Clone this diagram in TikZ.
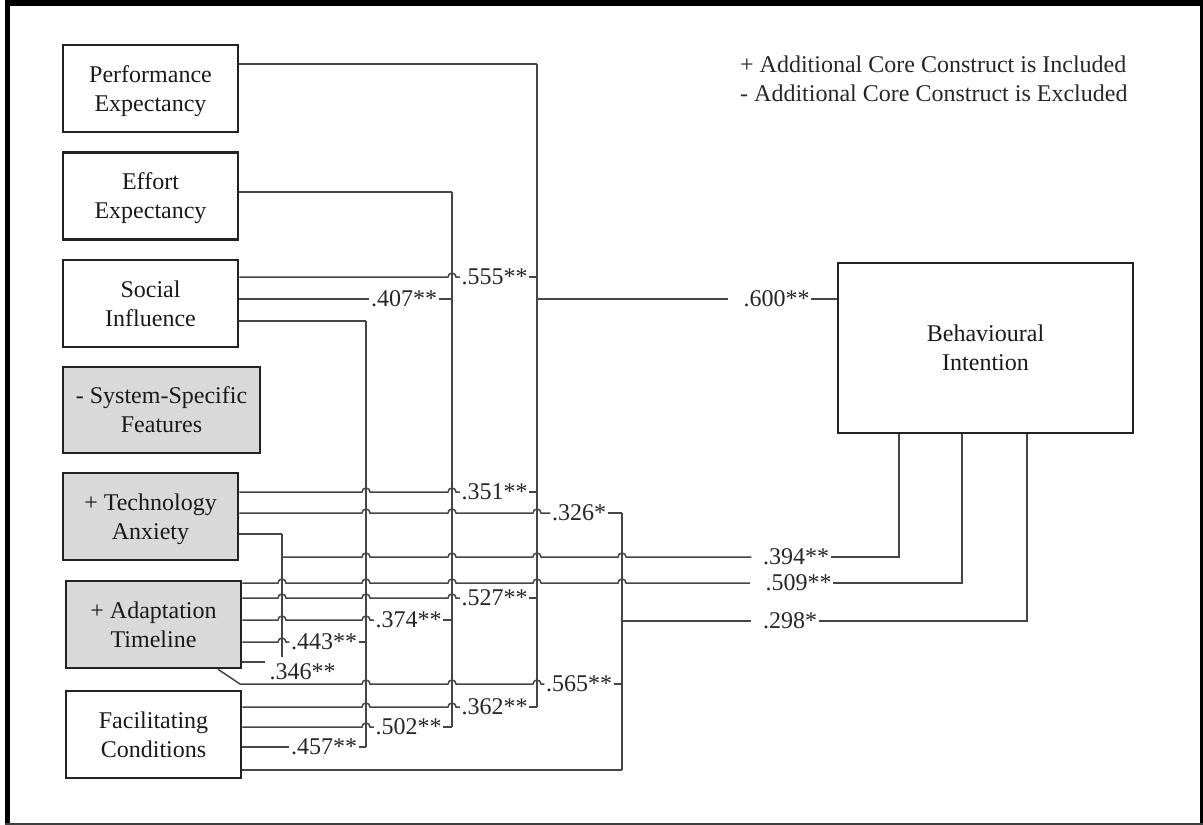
\documentclass[tikz,border=0pt]{standalone}
\usepackage{fontspec}
\setmainfont{Liberation Serif}
\usetikzlibrary{calc}
\definecolor{boxgray}{HTML}{D9D9D9}
\definecolor{connc}{HTML}{454545}
\definecolor{boxline}{HTML}{222222}
\newcommand\bxfont{\fontsize{24}{29}\selectfont}
\begin{document}
\begin{tikzpicture}[x=1pt,y=-1pt,
  box/.style={draw=boxline, line width=2.5pt, minimum width=175pt, minimum height=87pt, align=center, font=\bxfont, inner sep=2pt, text=black!90, text depth=0pt},
  graybox/.style={box, fill=boxgray},
  conn/.style={draw=connc, line width=1.5pt},
  lab/.style={inner sep=1.5pt, font=\bxfont, text=black!85},
]
\useasboundingbox (0,0) rectangle (1203,825);
% frame
\fill[black] (5,0) rectangle (10,825);
\fill[black] (5,0) rectangle (1203,6);
\fill[black] (1200,0) rectangle (1203,825);
\fill[black!75] (5,823) rectangle (1203,825);

% boxes
\node[box] (pe) at (150.5,88.5) {Performance\\Expectancy};
\node[box] (ee) at (150.5,196) {Effort\\Expectancy};
\node[box] (si) at (150.5,303.5) {Social\\Influence};
\node[graybox, minimum width=197pt, minimum height=86pt] (ssf) at (161.5,410) {- System-Specific\\Features};
\node[graybox] (ta) at (150.5,516.5) {+ Technology\\Anxiety};
\node[graybox] (at) at (153.5,624.5) {+ Adaptation\\Timeline};
\node[box] (fc) at (153.5,734.5) {Facilitating\\Conditions};
\node[box, minimum width=295pt, minimum height=170pt] (bi) at (985.5,348) {Behavioural\\Intention};

% legend
\node[anchor=west, font=\bxfont, inner sep=0pt, text=black!85] (leg1) at (740,64.5) {+ Additional Core Construct is Included};
\node[anchor=west, font=\bxfont, inner sep=0pt, text=black!85] (leg2) at (740,93) {- Additional Core Construct is Excluded};

% labels
\node[lab] (l555) at (494.5,277) {.555**};
\node[lab] (l407) at (404,299) {.407**};
\node[lab] (l351) at (494.5,492) {.351**};
\node[lab] (l326) at (579,513) {.326*};
\node[lab] (l394) at (796,557) {.394**};
\node[lab] (l509) at (798.5,583) {.509**};
\node[lab] (l527) at (494.5,598) {.527**};
\node[lab] (l374) at (408.5,620) {.374**};
\node[lab] (l443) at (324,642) {.443**};
\node[lab] (l346) at (302.5,671.5) {.346**};
\node[lab] (l565) at (579,684) {.565**};
\node[lab] (l362) at (494.5,707) {.362**};
\node[lab] (l502) at (408.5,727) {.502**};
\node[lab] (l457) at (324,747) {.457**};
\node[lab] (l298) at (790,621) {.298*};
\node[lab] (l600) at (776.5,299) {.600**};

% bus coordinates
\coordinate (v1t) at (537,64);  \coordinate (v1b) at (537,707);
\coordinate (v2t) at (452,192); \coordinate (v2b) at (452,727);
\coordinate (v3t) at (366,321); \coordinate (v3b) at (366,747);
\coordinate (v4t) at (282,534); \coordinate (v4b) at (282,657);
\coordinate (v5t) at (622,513); \coordinate (v5b) at (622,770);
\coordinate (bi1) at (bi.south -| 899,0);
\coordinate (bi2) at (bi.south -| 962,0);
\coordinate (bi3) at (bi.south -| 1027,0);
\coordinate (a346) at (265,662);

% buses
\draw[conn] (v1t) -- (v1b);
\draw[conn] (v2t) -- (v2b);
\draw[conn] (v3t) -- (v3b);
\draw[conn] (v4t) -- (v4b);
\draw[conn] (v5t) -- (v5b);

% Performance / Effort
\draw[conn] (pe.east |- v1t) -- (v1t);
\draw[conn] (ee.east |- v2t) -- (v2t);

% Social Influence
\draw[conn] (si.east |- l555) \foreach \h in {452}{-- (\h-4,277) arc[start angle=180,end angle=0,radius=4pt]} -- (l555.west);
\draw[conn] (l555.east) -- (l555 -| v1t);
\draw[conn] (si.east |- l407) -- (l407.west);
\draw[conn] (l407.east) -- (l407 -| v2t);
\draw[conn] (si.east |- v3t) -- (v3t);

% Technology Anxiety
\draw[conn] (ta.east |- l351) \foreach \h in {366,452}{-- (\h-4,492) arc[start angle=180,end angle=0,radius=4pt]} -- (l351.west);
\draw[conn] (l351.east) -- (l351 -| v1t);
\draw[conn] (ta.east |- l326) \foreach \h in {366,452,537}{-- (\h-4,513) arc[start angle=180,end angle=0,radius=4pt]} -- (l326.west);
\draw[conn] (l326.east) -- (v5t);
\draw[conn] (ta.east |- v4t) -- (v4t);
\draw[conn] (v4t |- l394) \foreach \h in {366,452,537,622}{-- (\h-4,557) arc[start angle=180,end angle=0,radius=4pt]} -- ([xshift=-10pt]l394.west);
\draw[conn] (l394.east) -- (l394 -| bi1) -- (bi1);

% Adaptation Timeline
\draw[conn] (at.east |- l509) \foreach \h in {282,366,452,537,622}{-- (\h-4,583) arc[start angle=180,end angle=0,radius=4pt]} -- ([xshift=-14pt]l509.west);
\draw[conn] (l509.east) -- (l509 -| bi2) -- (bi2);
\draw[conn] (at.east |- l527) \foreach \h in {282,366,452}{-- (\h-4,598) arc[start angle=180,end angle=0,radius=4pt]} -- (l527.west);
\draw[conn] (l527.east) -- (l527 -| v1t);
\draw[conn] (at.east |- l374) \foreach \h in {282,366}{-- (\h-4,620) arc[start angle=180,end angle=0,radius=4pt]} -- (l374.west);
\draw[conn] (l374.east) -- (l374 -| v2t);
\draw[conn] (at.east |- l443) \foreach \h in {282}{-- (\h-4,642) arc[start angle=180,end angle=0,radius=4pt]} -- (l443.west);
\draw[conn] (l443.east) -- (l443 -| v3t);
\draw[conn] (at.east |- a346) -- (a346);
\draw[conn] (at.south -| 218,0) -- (240,684) \foreach \h in {366,452,537}{-- (\h-4,684) arc[start angle=180,end angle=0,radius=4pt]} -- (l565.west);
\draw[conn] (l565.east) -- (l565 -| v5t);

% Facilitating Conditions
\draw[conn] (fc.east |- l362) \foreach \h in {366,452}{-- (\h-4,707) arc[start angle=180,end angle=0,radius=4pt]} -- (l362.west);
\draw[conn] (l362.east) -- (v1b);
\draw[conn] (fc.east |- l502) \foreach \h in {366}{-- (\h-4,727) arc[start angle=180,end angle=0,radius=4pt]} -- (l502.west);
\draw[conn] (l502.east) -- (v2b);
\draw[conn] (fc.east |- l457) -- (l457.west);
\draw[conn] (l457.east) -- (v3b);
\draw[conn] (fc.east |- v5b) -- (v5b);

% outputs to Behavioural Intention
\draw[conn] (v5t |- l298) -- ([xshift=-10pt]l298.west);
\draw[conn] (l298.east) -- (l298 -| bi3) -- (bi3);
\draw[conn] (v1t |- l600) -- ([xshift=-14pt]l600.west);
\draw[conn] (l600.east) -- (bi.west |- l600);
\end{tikzpicture}
\end{document}
